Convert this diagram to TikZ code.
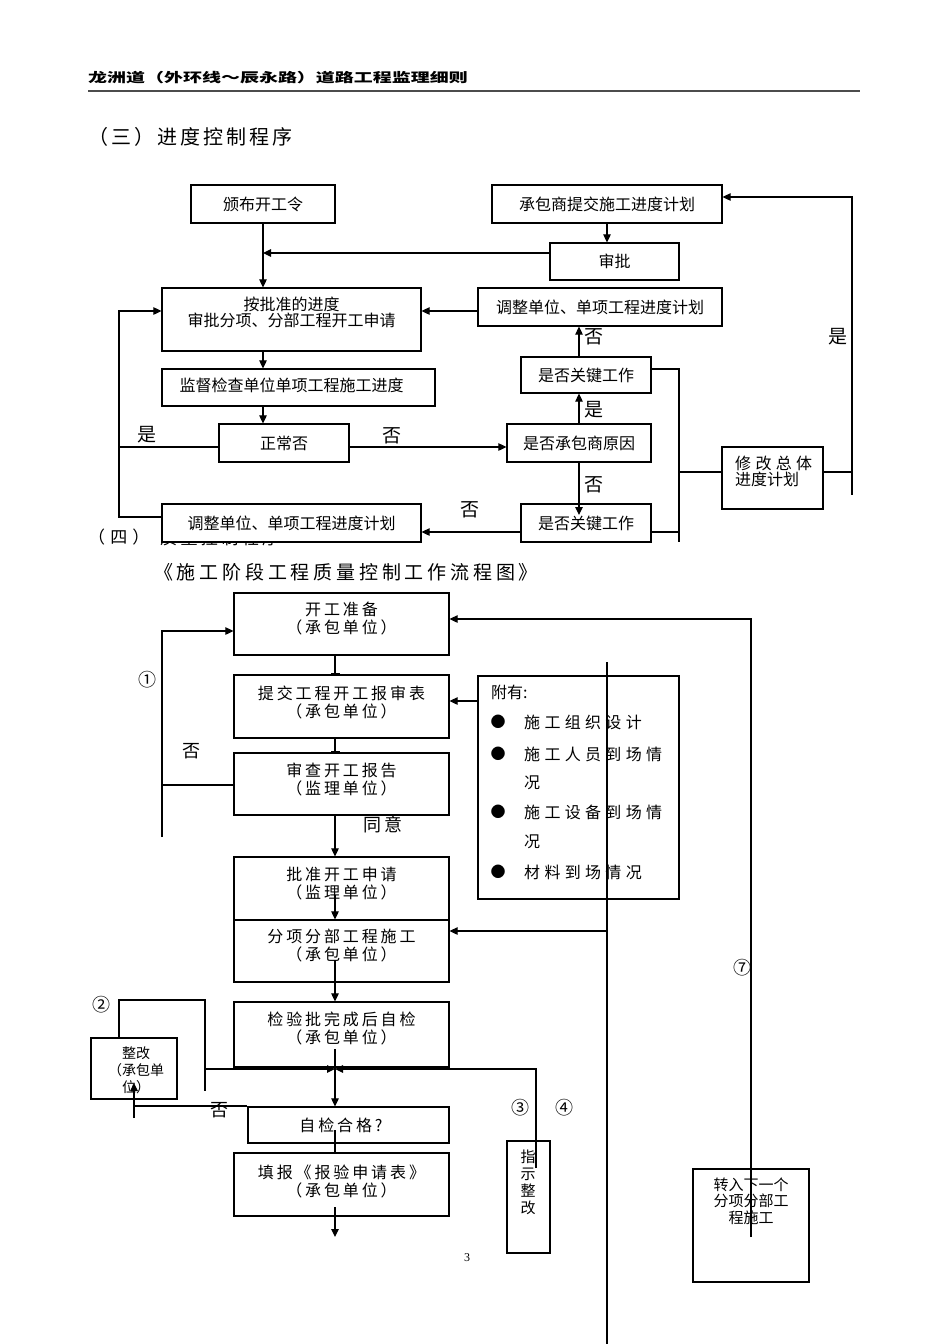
\documentclass[tikz,border=0pt]{standalone}
\usepackage{fontspec}
\setmainfont{Liberation Serif}
\newfontfamily\cjk{Noto Sans CJK SC}
\newfontfamily\cjkw[LetterSpace=18]{Noto Sans CJK SC}
\newfontfamily\cjkb[LetterSpace=27]{Noto Sans CJK SC}
\newfontfamily\cjkt[LetterSpace=20]{Noto Sans CJK SC}
\newfontfamily\cjkq[LetterSpace=30]{Noto Sans CJK SC}
\newfontfamily\cjks[LetterSpace=15]{Noto Sans CJK SC}
\newfontfamily\cjkhead[FakeStretch=1.46]{Noto Sans CJK SC}
\usetikzlibrary{arrows.meta}
\tikzset{
  box/.style={draw=black, line width=1.2pt, fill=white, inner sep=0pt, align=center},
  ln/.style={line width=1.1pt, draw=black},
  arr/.style={ln, -{Triangle[length=8pt,width=7.5pt]}},
  barr/.style={ln, -{Bar[width=9pt]}},
  ftop/.style={font={\cjk\fontsize{16}{16}\selectfont}, inner sep=0pt, align=center},
  flow/.style={font={\cjkw\fontsize{16}{18}\selectfont}, inner sep=0pt, align=center},
  fbul/.style={font={\cjkb\fontsize{16}{18}\selectfont}, inner sep=0pt, anchor=west},
  flab/.style={font={\cjk\fontsize{19}{19}\selectfont}, inner sep=0pt},
  fnum/.style={font={\cjk\fontsize{18}{18}\selectfont}, inner sep=0pt},
}
\begin{document}
\begin{tikzpicture}[x=1pt,y=-1pt]
\fill[white] (0,0) rectangle (950,1344);
\path[use as bounding box] (0,0) rectangle (950,1344);

% helper coordinates
\foreach \v in {119,134,162,205,263,335,536,579,607,679,751,852}{\coordinate (x\v) at (\v,0);}
\foreach \v in {197,253,311,369,447,472,495,515,517,532,542,619,631,662,701,785,837,895,931,960,1000,1049,1069,1083,1091,1106,1118,1130,1168,1207,1237,1344}{\coordinate (y\v) at (0,\v);}

% header
\node[anchor=west, inner sep=0pt, font={\cjkhead\bfseries\fontsize{13}{15}\selectfont}] (hd) at (88,78) {龙洲道（外环线～辰永路）道路工程监理细则};
\coordinate (hr1) at (88,91);
\coordinate (hr2) at (860,91);
\draw[line width=2pt, black!70] (hr1) -- (hr2);

\node[anchor=west, inner sep=0pt, font={\cjks\fontsize{20}{20}\selectfont}] (t3) at (88,137) {（三）进度控制程序};

% section 4 heading (partly hidden by box K)
\node[anchor=west, inner sep=0pt, font={\cjkq\fontsize{17}{17}\selectfont}] (t4) at (88,537) {（四）};
\node[anchor=west, inner sep=0pt, font={\cjkt\fontsize{17}{17}\selectfont}] (t4b) at (160,538) {质量控制程序};
\node[inner sep=0pt, font={\cjkt\fontsize{19}{19}\selectfont}] (t5) at (346,572) {《施工阶段工程质量控制工作流程图》};

% ---------- top diagram ----------
\node[box, ftop, minimum width=144pt, minimum height=38pt] (A) at (263,204) {颁布开工令};
\node[box, ftop, minimum width=230pt, minimum height=38pt] (B) at (607,204) {承包商提交施工进度计划};
\node[box, ftop, minimum width=129pt, minimum height=37pt] (C) at (614.5,261.5) {审批};
\node[box, ftop, minimum width=244pt, minimum height=38pt] (D) at (600,307) {调整单位、单项工程进度计划};
\node[box, minimum width=259pt, minimum height=63pt] (E) at (291.5,319.5) {};
\node[ftop, font={\cjk\fontsize{16}{16}\selectfont}] (Et) at (291.5,312) {按批准的进度\\审批分项、分部工程开工申请};
\node[box, minimum width=273pt, minimum height=37pt] (F) at (298.5,387.5) {};
\node[ftop] (Ft) at (291.5,385) {监督检查单位单项工程施工进度};
\node[box, ftop, minimum width=130pt, minimum height=38pt] (G) at (284,443) {正常否};
\node[box, ftop, minimum width=130pt, minimum height=36pt] (H) at (586,375) {是否关键工作};
\node[box, ftop, minimum width=144pt, minimum height=38pt] (I) at (579,443) {是否承包商原因};
\node[box, ftop, minimum width=130pt, minimum height=38pt] (J) at (586,523) {是否关键工作};
\node[box, ftop, minimum width=259pt, minimum height=38pt] (K) at (291.5,523) {调整单位、单项工程进度计划};
\node[box, minimum width=101pt, minimum height=62pt] (L) at (772.5,478) {};
\node[inner sep=0pt, anchor=west, align=left, font={\cjk\fontsize{16}{16}\selectfont}] (Lt) at (735,471) {{\cjkb 修改总体}\\进度计划};

\draw[arr] (A.south) -- (A.south |- E.north);
\draw[arr] (B.south) -- (B.south |- C.north);
\draw[arr] (C.west |- y253) -- (x263 |- y253);
\draw[arr] (D.west |- y311) -- (E.east |- y311);
\draw[arr] (x263 |- E.south) -- (x263 |- F.north);
\draw[arr] (x263 |- F.south) -- (x263 |- G.north);
\draw[arr] (G.east |- y447) -- (I.west |- y447);
\draw[ln] (G.west |- y447) -- (x119 |- y447);
\draw[arr] (K.west |- y517) -- (x119 |- y517) -- (x119 |- y311) -- (E.west |- y311);
\draw[arr] (x579 |- I.north) -- (x579 |- H.south);
\draw[arr] (x579 |- H.north) -- (x579 |- D.south);
\draw[arr] (x579 |- I.south) -- (x579 |- y515);
\draw[arr] (J.west |- y532) -- (K.east |- y532);
\draw[ln] (H.east |- y369) -- (x679 |- y369) -- (x679 |- y542);
\draw[ln] (J.east |- y532) -- (x679 |- y532);
\draw[ln] (x679 |- y472) -- (L.west |- y472);
\draw[arr] (L.east |- y472) -- (x852 |- y472) -- (x852 |- y197) -- (B.east |- y197);
\draw[ln] (x852 |- y472) -- (x852 |- y495);

\node[flab] (l1) at (147,435) {是};
\node[flab] (l2) at (392,436) {否};
\node[flab] (l3) at (470,510) {否};
\node[flab] (l4) at (594,410) {是};
\node[flab] (l5) at (594,337) {否};
\node[flab] (l6) at (594,485) {否};
\node[flab] (l7) at (838,337) {是};

% ---------- bottom diagram ----------
\node[box, minimum width=215pt, minimum height=62pt] (M) at (341.5,624) {};
\node[flow] (Mt) at (341.5,619) {开工准备\\（承包单位）};
\node[box, minimum width=215pt, minimum height=63pt] (N) at (341.5,706.5) {};
\node[flow] (Nt) at (341.5,702) {提交工程开工报审表\\（承包单位）};
\node[box, minimum width=215pt, minimum height=62pt] (O) at (341.5,784) {};
\node[flow] (Ot) at (341.5,779) {审查开工报告\\（监理单位）};
\node[box, minimum width=215pt, minimum height=63pt] (P) at (341.5,888.5) {};
\node[flow] (Pt) at (341.5,884) {批准开工申请\\（监理单位）};
\node[box, minimum width=215pt, minimum height=62pt] (Q) at (341.5,951) {};
\node[flow] (Qt) at (341.5,946) {分项分部工程施工\\（承包单位）};
\node[box, minimum width=215pt, minimum height=65pt] (R) at (341.5,1034.5) {};
\node[flow] (Rt) at (341.5,1028) {检验批完成后自检\\（承包单位）};
\node[box, minimum width=201pt, minimum height=36pt] (S) at (348.5,1125) {};
\node[flow] (St) at (341,1125) {自检合格?};
\node[box, minimum width=215pt, minimum height=63pt] (T) at (341.5,1184.5) {};
\node[flow] (Tt) at (341.5,1181) {填报《报验申请表》\\（承包单位）};

\node[box, minimum width=201pt, minimum height=223pt] (U) at (578.5,787.5) {};
\node[fbul, font={\cjk\fontsize{16}{18}\selectfont}] (u0) at (491,692) {附有:};
\node[inner sep=0pt, font={\cjk\fontsize{15}{15}\selectfont}] (b1) at (498,722) {●};
\node[inner sep=0pt, font={\cjk\fontsize{15}{15}\selectfont}] (b2) at (498,754) {●};
\node[inner sep=0pt, font={\cjk\fontsize{15}{15}\selectfont}] (b3) at (498,812) {●};
\node[inner sep=0pt, font={\cjk\fontsize{15}{15}\selectfont}] (b4) at (498,872) {●};
\node[fbul] (u1) at (524,722) {施工组织设计};
\node[fbul] (u2) at (524,754) {施工人员到场情};
\node[fbul] (u3) at (524,783) {况};
\node[fbul] (u4) at (524,812) {施工设备到场情};
\node[fbul] (u5) at (524,842) {况};
\node[fbul] (u6) at (524,872) {材料到场情况};

\node[box, minimum width=86pt, minimum height=61pt] (V) at (134,1068.5) {};
\node[inner sep=0pt, align=center, font={\cjk\fontsize{14}{17}\selectfont}] (Vt) at (136,1070) {整改\\（承包单\\位）};
\node[box, minimum width=43pt, minimum height=112pt] (W) at (528.5,1197) {};
\node[inner sep=0pt, align=center, font={\cjk\fontsize{15}{17}\selectfont}] (Wt) at (528,1182) {指\\示\\整\\改};
\node[box, minimum width=116pt, minimum height=113pt] (X) at (751,1225.5) {};
\node[inner sep=0pt, align=center, font={\cjk\fontsize{15}{16.5}\selectfont}] (Xt) at (751,1201) {转入下一个\\分项分部工\\程施工};

\draw[barr] (x335 |- M.south) -- (x335 |- N.north);
\draw[barr] (x335 |- N.south) -- (x335 |- O.north);
\draw[arr] (x335 |- O.south) -- (x335 |- P.north);
\draw[ln] (O.west |- y785) -- (x162 |- y785);
\draw[arr] (x162 |- y837) -- (x162 |- y631) -- (M.west |- y631);
\draw[arr] (U.west |- y701) -- (N.east |- y701);
\draw[arr] (x335 |- y895) -- (x335 |- Q.north);
\draw[arr] (x335 |- y960) -- (x335 |- R.north);
\draw[arr] (x335 |- y1049) -- (x335 |- S.north);
\draw[arr] (x205 |- y1069) -- (x335 |- y1069);
\draw[arr] (x536 |- y1168) -- (x536 |- y1069) -- (x335 |- y1069);
\draw[ln] (x119 |- V.north) -- (x119 |- y1000) -- (x205 |- y1000) -- (x205 |- y1091);
\draw[ln] (S.west |- y1106) -- (x134 |- y1106);
\draw[arr] (x134 |- y1118) -- (x134 |- y1083);
\draw[ln] (x335 |- y1130) -- (x335 |- T.north);
\draw[arr] (x335 |- y1207) -- (x335 |- y1237);
\draw[ln] (x607 |- y662) -- (x607 |- y1344);
\draw[arr] (x607 |- y931) -- (Q.east |- y931);
\draw[arr] (x751 |- y1237) -- (x751 |- y619) -- (M.east |- y619);

\node[fnum] (n1) at (147,680) {①};
\node[fnum] (n2) at (101,1005) {②};
\node[fnum] (n3) at (520,1108) {③};
\node[fnum] (n4) at (564,1108) {④};
\node[fnum] (n7) at (742,968) {⑦};
\node[flab, font={\cjk\fontsize{18}{18}\selectfont}] (m1) at (191,751) {否};
\node[flab, font={\cjkw\fontsize{18}{18}\selectfont}] (m2) at (383,825) {同意};
\node[flab, font={\cjk\fontsize{18}{18}\selectfont}] (m3) at (219,1110) {否};
\node[inner sep=0pt, font={\fontsize{12}{12}\selectfont}] (pg) at (467,1258) {3};
\end{tikzpicture}
\end{document}
